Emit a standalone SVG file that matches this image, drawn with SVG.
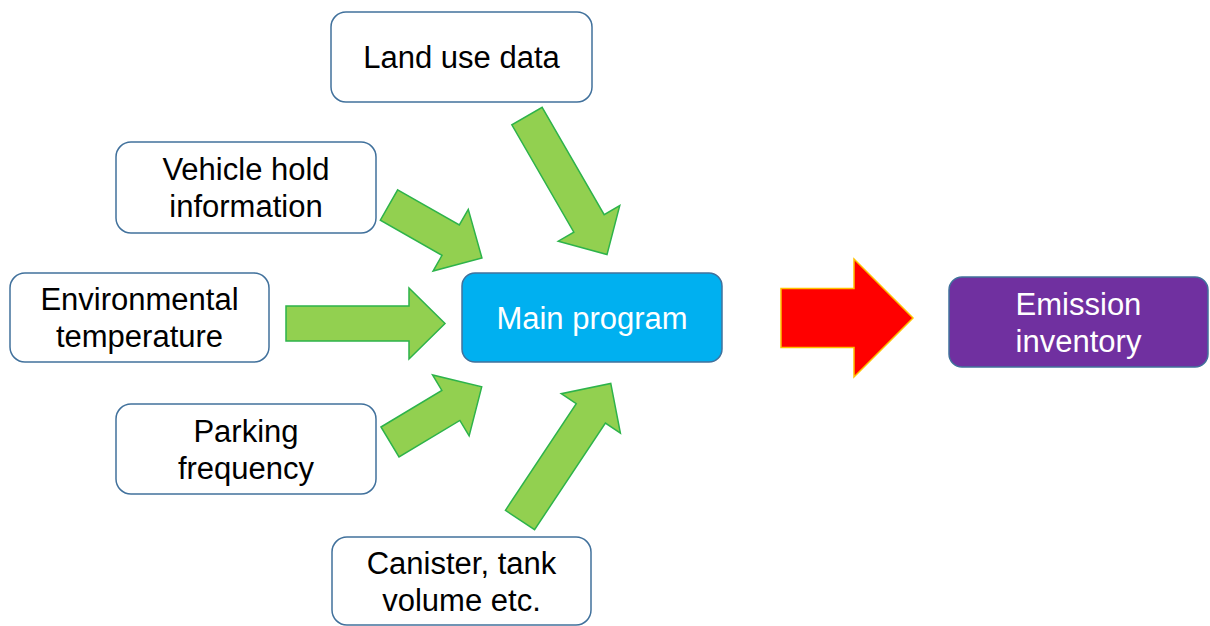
<svg xmlns="http://www.w3.org/2000/svg" width="1210" height="626" viewBox="0 0 1210 626">
  <style>
    .box { fill: #ffffff; stroke: #41719C; stroke-width: 1.5; }
    .main { fill: #00B0F0; stroke: #41719C; stroke-width: 1.5; }
    .out { fill: #7030A0; stroke: #41719C; stroke-width: 1.5; }
    .lbl { font-family: "Liberation Sans", Arial, sans-serif; font-size: 31px; text-anchor: middle; fill: #000000; }
    .lblw { font-family: "Liberation Sans", Arial, sans-serif; font-size: 31px; text-anchor: middle; fill: #ffffff; }
    .garrow { fill: #92D050; stroke: #2DB34A; stroke-width: 1.5; stroke-linejoin: miter; }
    .rarrow { fill: #FF0000; stroke: #FFC000; stroke-width: 1.5; }
  </style>

  <!-- input nodes -->
  <g id="land-use">
    <rect class="box" x="331" y="12" width="261" height="90" rx="15"/>
    <text class="lbl" x="461.5" y="68">Land use data</text>
  </g>
  <g id="vehicle-hold">
    <rect class="box" x="116" y="142" width="260" height="91" rx="15"/>
    <text class="lbl" x="246" y="180">Vehicle hold</text>
    <text class="lbl" x="246" y="217">information</text>
  </g>
  <g id="env-temp">
    <rect class="box" x="10" y="273" width="259" height="89" rx="15"/>
    <text class="lbl" x="139.5" y="310">Environmental</text>
    <text class="lbl" x="139.5" y="347">temperature</text>
  </g>
  <g id="parking">
    <rect class="box" x="116" y="404" width="260" height="90" rx="15"/>
    <text class="lbl" x="246" y="441.5">Parking</text>
    <text class="lbl" x="246" y="478.5">frequency</text>
  </g>
  <g id="canister">
    <rect class="box" x="332" y="537" width="259" height="88" rx="15"/>
    <text class="lbl" x="461.5" y="573.5">Canister, tank</text>
    <text class="lbl" x="461.5" y="610.5">volume etc.</text>
  </g>

  <!-- processing and output nodes -->
  <g id="main-program">
    <rect class="main" x="462" y="273" width="260" height="89" rx="13"/>
    <text class="lblw" x="592" y="328.5">Main program</text>
  </g>
  <g id="emission-inventory">
    <rect class="out" x="949" y="277" width="259" height="90" rx="13"/>
    <text class="lblw" x="1078.5" y="314.5">Emission</text>
    <text class="lblw" x="1078.5" y="351.5">inventory</text>
  </g>

  <!-- block arrows -->
  <g id="connectors">
    <path class="garrow" transform="translate(527,116) rotate(60)" d="M0,-17.5 H124 V-35.5 L160,0 L124,35.5 V17.5 H0 Z"/>
    <path class="garrow" transform="translate(389,205) rotate(29.7)" d="M0,-17.5 H71 V-35.5 L107,0 L71,35.5 V17.5 H0 Z"/>
    <path class="garrow" transform="translate(286,323.5)" d="M0,-17.5 H123 V-35.5 L159,0 L123,35.5 V17.5 H0 Z"/>
    <path class="garrow" transform="translate(390,442) rotate(-31)" d="M0,-17.5 H71 V-35.5 L107,0 L71,35.5 V17.5 H0 Z"/>
    <path class="garrow" transform="translate(520,520) rotate(-56.4)" d="M0,-17.5 H128 V-35.5 L164,0 L128,35.5 V17.5 H0 Z"/>
    <path class="rarrow" d="M781,288.5 H854 V259 L913,318 L854,377 V347.5 H781 Z"/>
  </g>
</svg>
